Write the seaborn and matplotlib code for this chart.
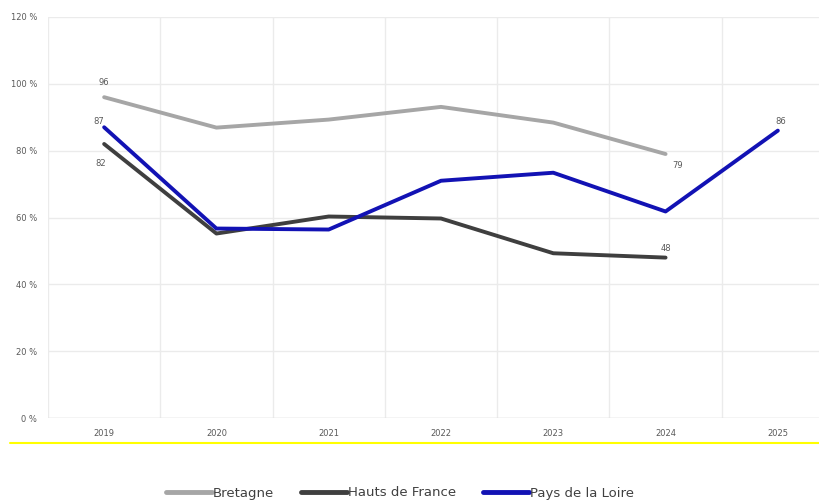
import numpy as np
import pandas as pd
import matplotlib
matplotlib.use("Agg")
import matplotlib.pyplot as plt
import seaborn as sns
from matplotlib.lines import Line2D

years = ["2019", "2020", "2021", "2022", "2023", "2024", "2025"]
bretagne = [96, 86.9, 89.3, 93.1, 88.4, 79, np.nan]
hauts_de_france = [82, 55.2, 60.3, 59.7, 49.3, 48, np.nan]
pays_de_la_loire = [87, 56.7, 56.4, 71, 73.4, 61.8, 86]
series_names = ["Bretagne", "Hauts de France", "Pays de la Loire"]
colors = ["#a6a6a6", "#3f3f3f", "#1212b4"]
y_ticks = [0, 20, 40, 60, 80, 100, 120]

rows = []
for name, vals in zip(series_names, [bretagne, hauts_de_france, pays_de_la_loire]):
    for i, (yr, v) in enumerate(zip(years, vals)):
        rows.append({"idx": i, "year": yr, "value": v, "series": name})
df = pd.DataFrame(rows).dropna()

sns.set_theme(style="white")
plt.rcParams['font.family'] = ['DejaVu Sans']

fig = plt.figure(figsize=(8.19, 5.03), dpi=100)
ax = fig.add_axes([48/819, 1-418/503, (834-48)/819, (418-17)/503])

sns.lineplot(data=df, x="idx", y="value", hue="series", hue_order=series_names,
             palette=colors, linewidth=2.8, ax=ax, legend=False, sort=False)

ax.set_xlim(-0.5, len(years)-0.5)
ax.set_ylim(0, 120)
ax.set_xticks(range(len(years)))
ax.set_xticklabels(years, fontsize=6, color="#595959")
ax.set_xticks(np.arange(-0.5, len(years), 1), minor=True)
ax.set_yticks(y_ticks)
ax.set_yticklabels([f"{t} %" for t in y_ticks], fontsize=6, color="#595959")
ax.tick_params(axis="both", which="both", length=0, pad=8)
ax.grid(True, axis="y", which="major", color="#ebebeb", linewidth=1)
ax.grid(True, axis="x", which="minor", color="#ebebeb", linewidth=1)
ax.grid(False, axis="x", which="major")
ax.set_xlabel("")
ax.set_ylabel("")
for s in ax.spines.values():
    s.set_visible(False)
ax.axhline(0, color="#d9d9d9", linewidth=1)

# data labels (first and last points)
lab = dict(fontsize=6, color="#595959", ha="center")
ax.text(0, bretagne[0] + 3, "96", va="bottom", **lab)
ax.text(5 + 0.11, bretagne[5] - 2, "79", va="top", **lab)
ax.text(-0.03, hauts_de_france[0] - 4.5, "82", va="top", **lab)
ax.text(5, hauts_de_france[5] + 1.5, "48", va="bottom", **lab)
ax.text(-0.05, pays_de_la_loire[0] + 0.5, "87", va="bottom", **lab)
ax.text(6.03, pays_de_la_loire[6] + 1.5, "86", va="bottom", **lab)

# yellow separator
fig.add_artist(Line2D([10/819, 1], [1-443/503, 1-443/503], color="#ffff00", linewidth=1.5))

handles = [Line2D([0], [0], color=c, linewidth=3.5) for c in colors]
fig.legend(handles, series_names, loc="center", bbox_to_anchor=(400/819, 1-493/503),
           ncol=3, frameon=False, fontsize=9.5, handlelength=3.5, handletextpad=0.1,
           columnspacing=2.0, labelcolor="#404040")

fig.savefig("out.png", dpi=100)
